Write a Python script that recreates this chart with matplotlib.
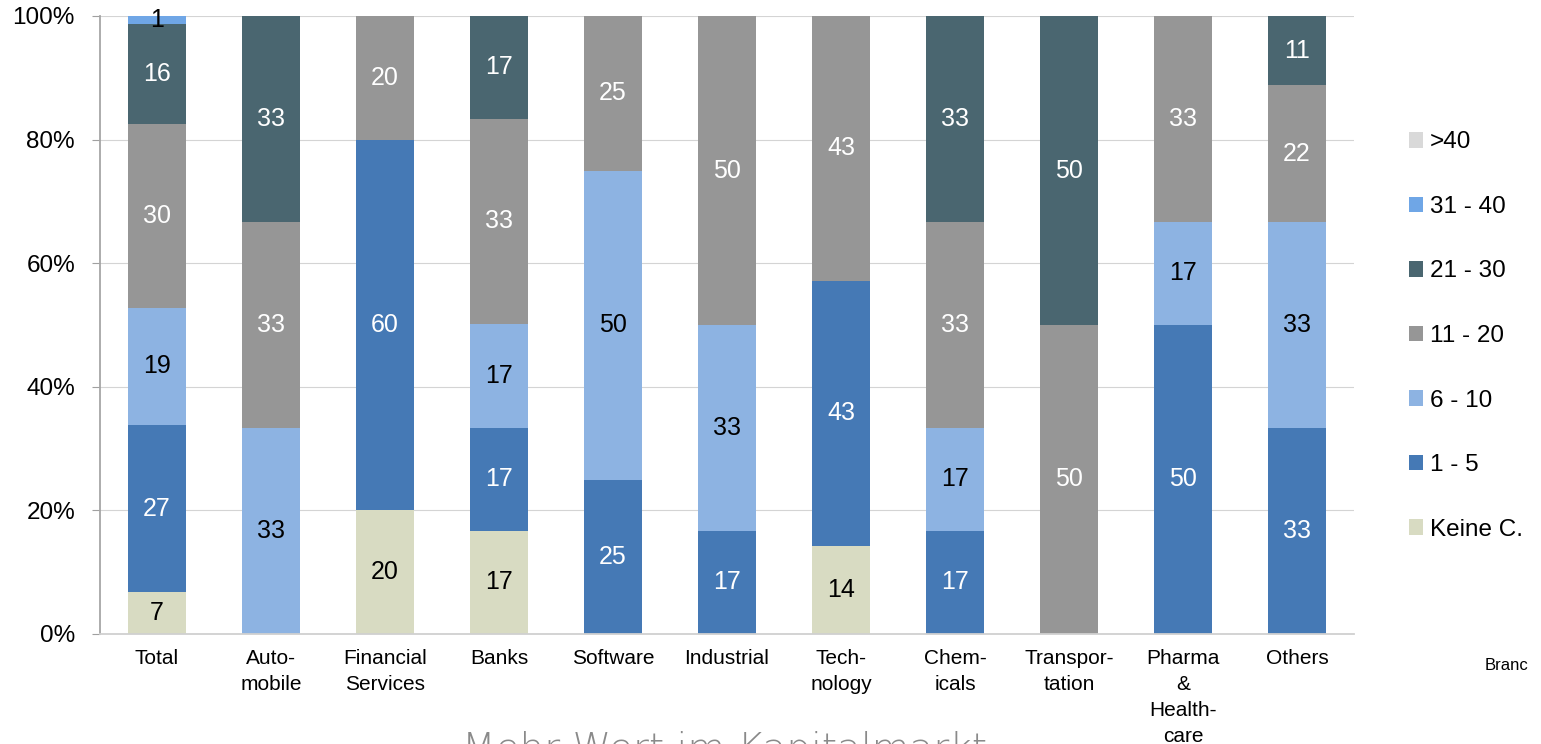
import matplotlib.pyplot as plt
import numpy as np

plt.rcParams['font.family'] = ['Liberation Sans', 'DejaVu Sans']

branches = ['Total', 'Auto-\nmobile', 'Financial\nServices', 'Banks', 'Software', 'Industrial',
            'Tech-\nnology', 'Chem-\nicals', 'Transpor-\ntation', 'Pharma\n&\nHealth-\ncare', 'Others']

groups = ['Keine C.', '1 - 5', '6 - 10', '11 - 20', '21 - 30', '31 - 40', '>40']
colors = ['#d8dbc2', '#4579b5', '#8db3e2', '#969696', '#4a6670', '#6fa6e6', '#d9d9d9']
text_colors = ['black', 'white', 'black', 'white', 'white', 'black', 'black']

# share of companies per branch (%)
keine   = [6.8, 0, 20, 16.7, 0, 0, 14.3, 0, 0, 0, 0]
r1_5    = [27.0, 0, 60, 16.7, 25, 16.7, 42.9, 16.7, 0, 50, 33.3]
r6_10   = [19.0, 33.3, 0, 16.7, 50, 33.3, 0, 16.7, 0, 16.7, 33.3]
r11_20  = [29.7, 33.3, 20, 33.3, 25, 50, 42.9, 33.3, 50, 33.3, 22.2]
r21_30  = [16.2, 33.4, 0, 16.6, 0, 0, 0, 33.3, 50, 0, 11.2]
r31_40  = [1.3, 0, 0, 0, 0, 0, 0, 0, 0, 0, 0]
r_gt40  = [0, 0, 0, 0, 0, 0, 0, 0, 0, 0, 0]

series = [keine, r1_5, r6_10, r11_20, r21_30, r31_40, r_gt40]

fig = plt.figure(figsize=(15.41, 7.44), dpi=100)
ax = fig.add_axes([100 / 1541, 1 - 634 / 744, 1254 / 1541, 618 / 744])

x = np.arange(len(branches))
bottom = np.zeros(len(branches))
handles = []
for vals, col, tcol, name in zip(series, colors, text_colors, groups):
    vals = np.array(vals, dtype=float)
    h = ax.bar(x, vals / 100, 0.51, bottom=bottom / 100, color=col, label=name, zorder=2)
    handles.append(h)
    for xi, v, b in zip(x, vals, bottom):
        if v > 0:
            ax.text(xi, (b + v / 2) / 100, f'{v:.0f}', ha='center', va='center',
                    fontsize=18, color=tcol, zorder=3)
    bottom += vals

ax.set_xlim(-0.5, len(branches) - 0.5)
ax.set_ylim(0, 1)
ax.set_yticks(np.arange(0, 1.01, 0.2))
ax.set_yticklabels([f'{int(t * 100)}%' for t in np.arange(0, 1.01, 0.2)], fontsize=17.5)
ax.yaxis.grid(True, color='#d4d4d4', linewidth=0.8, zorder=0)
ax.set_axisbelow(True)
ax.set_xticks(x)
ax.set_xticklabels(branches, fontsize=15, linespacing=1.47, va='top')
ax.tick_params(axis='x', length=0, pad=11)
ax.tick_params(axis='y', length=6, color='#a0a0a0', pad=12)
for s in ['top', 'right']:
    ax.spines[s].set_visible(False)
ax.spines['left'].set_color('#a6a6a6')
ax.spines['bottom'].set_color('#d0d0d0')
ax.spines['left'].set_linewidth(1.3)
ax.spines['bottom'].set_linewidth(1.3)

fig.legend(handles[::-1], groups[::-1], loc='center left',
           bbox_to_anchor=(1387 / 1541, 1 - 336 / 744), frameon=False,
           fontsize=17.5, handlelength=0.6, handleheight=0.6, handletextpad=0.25,
           labelspacing=1.75)

fig.text(1485 / 1541, 1 - 665 / 744, 'Branc', fontsize=12, ha='left', va='center')
fig.text(725 / 1541, -0.034, 'Mehr Wert im Kapitalmarkt', fontsize=28, color='#8a8a8a',
         ha='center', va='bottom', fontfamily='DejaVu Sans', fontweight='light')

fig.savefig('out.png', dpi=100)
